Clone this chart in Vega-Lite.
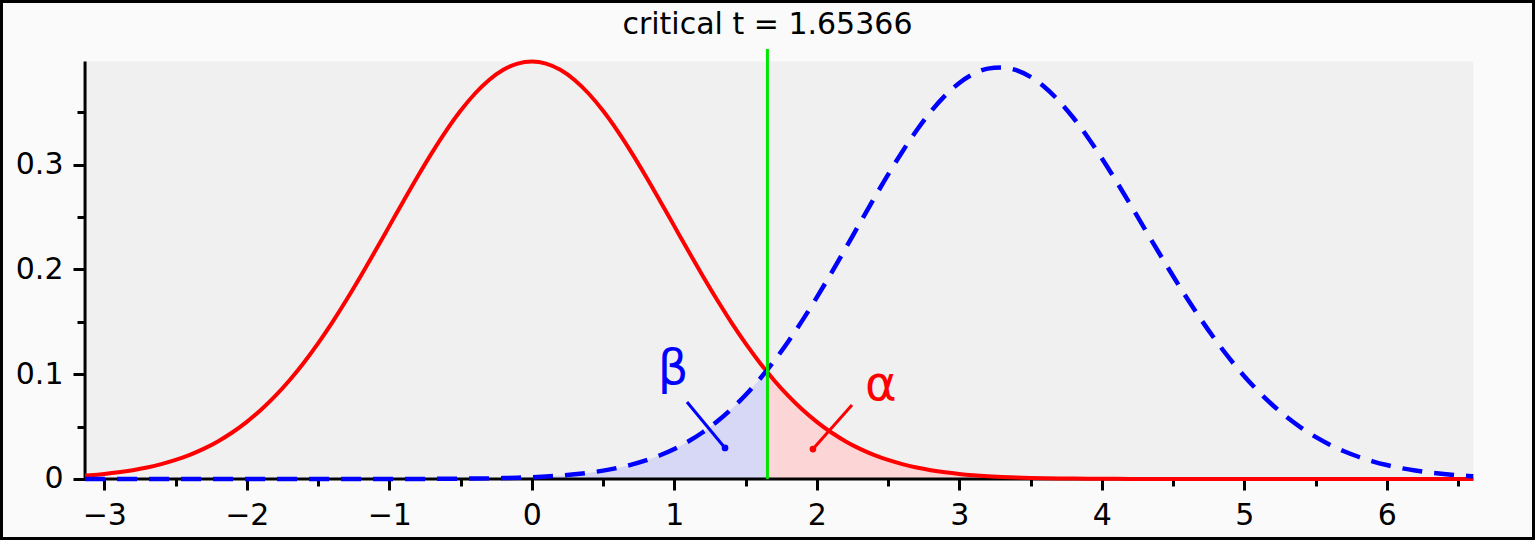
{
  "$schema": "https://vega.github.io/schema/vega-lite/v6.json",
  "width": 1535,
  "height": 540,
  "autosize": "none",
  "padding": 0,
  "background": "#fafafa",
  "config": {
    "view": {"stroke": "#000000", "strokeWidth": 6, "fill": "#fafafa"},
    "font": "DejaVu Sans",
    "axis": {
      "title": null, "grid": false, "domain": false,
      "tickWidth": 3, "tickColor": "#000000",
      "labelFont": "DejaVu Sans", "labelFontSize": 30, "labelColor": "#000000",
      "labelPadding": 10, "labelFlush": false, "labelOverlap": false, "labelBound": false
    }
  },
  "datasets": {
    "curves": [
      {"x": -3.135, "red": 0.00324, "blue": 0},
      {"x": -3.1, "red": 0.0036, "blue": 0},
      {"x": -3.0, "red": 0.00482, "blue": 0},
      {"x": -2.9, "red": 0.0064, "blue": 0},
      {"x": -2.8, "red": 0.00842, "blue": 0},
      {"x": -2.7, "red": 0.01098, "blue": 0},
      {"x": -2.6, "red": 0.01419, "blue": 0},
      {"x": -2.5, "red": 0.01817, "blue": 0},
      {"x": -2.4, "red": 0.02306, "blue": 0},
      {"x": -2.3, "red": 0.02899, "blue": 0},
      {"x": -2.2, "red": 0.03612, "blue": 0},
      {"x": -2.1, "red": 0.04459, "blue": 0},
      {"x": -2.0, "red": 0.05453, "blue": 0},
      {"x": -1.9, "red": 0.06607, "blue": 0},
      {"x": -1.8, "red": 0.07929, "blue": 0},
      {"x": -1.7, "red": 0.09426, "blue": 0},
      {"x": -1.6, "red": 0.11099, "blue": 0},
      {"x": -1.5, "red": 0.12944, "blue": 0},
      {"x": -1.4, "red": 0.1495, "blue": 0},
      {"x": -1.3, "red": 0.171, "blue": 0},
      {"x": -1.2, "red": 0.19369, "blue": 0},
      {"x": -1.1, "red": 0.21724, "blue": 0.00002},
      {"x": -1.0, "red": 0.24128, "blue": 0.00004},
      {"x": -0.9, "red": 0.26534, "blue": 0.00006},
      {"x": -0.8, "red": 0.28892, "blue": 0.00009},
      {"x": -0.7, "red": 0.31148, "blue": 0.00013},
      {"x": -0.6, "red": 0.33247, "blue": 0.0002},
      {"x": -0.5, "red": 0.35134, "blue": 0.00029},
      {"x": -0.4, "red": 0.36759, "blue": 0.00042},
      {"x": -0.3, "red": 0.38075, "blue": 0.00061},
      {"x": -0.2, "red": 0.39044, "blue": 0.00087},
      {"x": -0.1, "red": 0.39637, "blue": 0.00123},
      {"x": 0.0, "red": 0.39837, "blue": 0.00172},
      {"x": 0.1, "red": 0.39637, "blue": 0.00239},
      {"x": 0.2, "red": 0.39044, "blue": 0.00327},
      {"x": 0.3, "red": 0.38075, "blue": 0.00445},
      {"x": 0.4, "red": 0.36759, "blue": 0.00598},
      {"x": 0.5, "red": 0.35134, "blue": 0.00797},
      {"x": 0.6, "red": 0.33247, "blue": 0.0105},
      {"x": 0.7, "red": 0.31148, "blue": 0.01371},
      {"x": 0.8, "red": 0.28892, "blue": 0.01771},
      {"x": 0.9, "red": 0.26534, "blue": 0.02266},
      {"x": 1.0, "red": 0.24128, "blue": 0.02869},
      {"x": 1.1, "red": 0.21724, "blue": 0.03596},
      {"x": 1.2, "red": 0.19369, "blue": 0.04461},
      {"x": 1.3, "red": 0.171, "blue": 0.05478},
      {"x": 1.4, "red": 0.1495, "blue": 0.0666},
      {"x": 1.5, "red": 0.12944, "blue": 0.08013},
      {"x": 1.6, "red": 0.11099, "blue": 0.09543},
      {"x": 1.65366, "red": 0.1018, "blue": 0.10437},
      {"x": 1.7, "red": 0.09426, "blue": 0.1125},
      {"x": 1.8, "red": 0.07929, "blue": 0.13127},
      {"x": 1.9, "red": 0.06607, "blue": 0.15161},
      {"x": 2.0, "red": 0.05453, "blue": 0.17332},
      {"x": 2.1, "red": 0.04459, "blue": 0.19612},
      {"x": 2.2, "red": 0.03612, "blue": 0.21968},
      {"x": 2.3, "red": 0.02899, "blue": 0.24356},
      {"x": 2.4, "red": 0.02306, "blue": 0.26731},
      {"x": 2.5, "red": 0.01817, "blue": 0.29042},
      {"x": 2.6, "red": 0.01419, "blue": 0.31234},
      {"x": 2.7, "red": 0.01098, "blue": 0.33255},
      {"x": 2.8, "red": 0.00842, "blue": 0.35052},
      {"x": 2.9, "red": 0.0064, "blue": 0.36578},
      {"x": 3.0, "red": 0.00482, "blue": 0.37791},
      {"x": 3.1, "red": 0.0036, "blue": 0.38658},
      {"x": 3.2, "red": 0.00267, "blue": 0.39156},
      {"x": 3.3, "red": 0.00196, "blue": 0.39273},
      {"x": 3.4, "red": 0.00142, "blue": 0.39008},
      {"x": 3.5, "red": 0.00103, "blue": 0.38369},
      {"x": 3.6, "red": 0.00074, "blue": 0.37379},
      {"x": 3.7, "red": 0.00052, "blue": 0.36066},
      {"x": 3.8, "red": 0.00037, "blue": 0.3447},
      {"x": 3.9, "red": 0.00025, "blue": 0.32636},
      {"x": 4.0, "red": 0.00018, "blue": 0.30612},
      {"x": 4.1, "red": 0.00012, "blue": 0.28447},
      {"x": 4.2, "red": 0.00008, "blue": 0.26194},
      {"x": 4.3, "red": 0.00005, "blue": 0.239},
      {"x": 4.4, "red": 0.00003, "blue": 0.21611},
      {"x": 4.5, "red": 0.00002, "blue": 0.19366},
      {"x": 4.6, "red": 0.00001, "blue": 0.17202},
      {"x": 4.7, "red": 0, "blue": 0.15145},
      {"x": 4.8, "red": 0, "blue": 0.13218},
      {"x": 4.9, "red": 0, "blue": 0.11437},
      {"x": 5.0, "red": 0, "blue": 0.09811},
      {"x": 5.1, "red": 0, "blue": 0.08345},
      {"x": 5.2, "red": 0, "blue": 0.07038},
      {"x": 5.3, "red": 0, "blue": 0.05886},
      {"x": 5.4, "red": 0, "blue": 0.04881},
      {"x": 5.5, "red": 0, "blue": 0.04014},
      {"x": 5.6, "red": 0, "blue": 0.03273},
      {"x": 5.7, "red": 0, "blue": 0.02647},
      {"x": 5.8, "red": 0, "blue": 0.02123},
      {"x": 5.9, "red": 0, "blue": 0.01688},
      {"x": 6.0, "red": 0, "blue": 0.01331},
      {"x": 6.1, "red": 0, "blue": 0.01041},
      {"x": 6.2, "red": 0, "blue": 0.00807},
      {"x": 6.3, "red": 0, "blue": 0.0062},
      {"x": 6.4, "red": 0, "blue": 0.00473},
      {"x": 6.5, "red": 0, "blue": 0.00357},
      {"x": 6.6, "red": 0, "blue": 0.00268},
      {"x": 6.607, "red": 0, "blue": 0.00262}
    ],
    "critical": [{"t": 1.65366, "label": "critical t = 1.65366"}],
    "greek": [
      {"s": "β", "x": 0.991, "y": 0.0906},
      {"s": "α", "x": 2.45, "y": 0.0754}
    ],
    "pointers": [
      {"s": "β", "x": 1.089, "y": 0.0735},
      {"s": "β", "x": 1.356, "y": 0.0296},
      {"s": "α", "x": 2.247, "y": 0.0706},
      {"s": "α", "x": 1.973, "y": 0.0286}
    ],
    "dots": [
      {"s": "β", "x": 1.356, "y": 0.0296},
      {"s": "α", "x": 1.973, "y": 0.0286}
    ]
  },
  "layer": [
    {
      "data": {"values": [{"x0": -3.135, "x1": 6.607, "y0": 0, "y1": 0.3984}]},
      "mark": {"type": "rect", "fill": "#f0f0f0"},
      "encoding": {
        "x": {
          "field": "x0", "type": "quantitative",
          "scale": {"domain": [-3.7319, 7.04], "nice": false, "zero": false},
          "axis": {
            "orient": "bottom", "offset": -61, "domain": false, "grid": false, "title": null,
            "values": [-3, -2.5, -2, -1.5, -1, -0.5, 0, 0.5, 1, 1.5, 2, 2.5, 3, 3.5, 4, 4.5, 5, 5.5, 6, 6.5],
            "labelExpr": "datum.value % 1 == 0 ? format(datum.value, 'd') : ''",
            "tickSize": {"condition": {"test": "datum.value % 1 == 0", "value": 11}, "value": 7},
            "tickWidth": 3, "tickColor": "#000000",
            "labelFont": "DejaVu Sans", "labelFontSize": 30, "labelColor": "#000000",
            "labelPadding": 10
          }
        },
        "x2": {"field": "x1"},
        "y": {
          "field": "y0", "type": "quantitative",
          "scale": {"domain": [-0.05821, 0.45706], "nice": false, "zero": false},
          "axis": {
            "orient": "left", "offset": -85, "domain": false, "grid": false, "title": null,
            "values": [0, 0.05, 0.1, 0.15, 0.2, 0.25, 0.3, 0.35],
            "labelExpr": "round(datum.value * 20) % 2 == 0 ? (datum.value == 0 ? '0' : format(datum.value, '.1f')) : ''",
            "tickSize": {"condition": {"test": "round(datum.value * 20) % 2 == 0", "value": 12}, "value": 8},
            "tickWidth": 3, "tickColor": "#000000",
            "labelFont": "DejaVu Sans", "labelFontSize": 30, "labelColor": "#000000",
            "labelPadding": 10
          }
        },
        "y2": {"field": "y1"}
      }
    },
    {
      "data": {"name": "curves"},
      "transform": [{"filter": "datum.x <= 1.65366"}],
      "mark": {"type": "area", "color": "#d6d8f6", "interpolate": "monotone"},
      "encoding": {
        "x": {"field": "x", "type": "quantitative"},
        "y": {"field": "blue", "type": "quantitative"},
        "y2": {"datum": 0}
      }
    },
    {
      "data": {"name": "curves"},
      "transform": [{"filter": "datum.x >= 1.65366"}],
      "mark": {"type": "area", "color": "#fcd6d6", "interpolate": "monotone"},
      "encoding": {
        "x": {"field": "x", "type": "quantitative"},
        "y": {"field": "red", "type": "quantitative"},
        "y2": {"datum": 0}
      }
    },
    {
      "data": {"values": [{"x0": -3.135, "x1": 6.607, "y0": 0}]},
      "mark": {"type": "rule", "color": "#000000", "strokeWidth": 3},
      "encoding": {
        "x": {"field": "x0", "type": "quantitative"},
        "x2": {"field": "x1"},
        "y": {"field": "y0", "type": "quantitative"}
      }
    },
    {
      "data": {"values": [{"x0": -3.135, "y0": 0, "y1": 0.3984}]},
      "mark": {"type": "rule", "color": "#000000", "strokeWidth": 3},
      "encoding": {
        "x": {"field": "x0", "type": "quantitative"},
        "y": {"field": "y0", "type": "quantitative"},
        "y2": {"field": "y1"}
      }
    },
    {
      "data": {"name": "curves"},
      "mark": {"type": "line", "color": "#ff0000", "strokeWidth": 4, "interpolate": "monotone"},
      "encoding": {
        "x": {"field": "x", "type": "quantitative"},
        "y": {"field": "red", "type": "quantitative"}
      }
    },
    {
      "data": {"name": "curves"},
      "mark": {"type": "line", "color": "#0000ff", "strokeWidth": 4.5, "strokeDash": [20, 12], "interpolate": "monotone"},
      "encoding": {
        "x": {"field": "x", "type": "quantitative"},
        "y": {"field": "blue", "type": "quantitative"}
      }
    },
    {
      "data": {"name": "critical"},
      "mark": {"type": "rule", "color": "#00e600", "strokeWidth": 3},
      "encoding": {
        "x": {"field": "t", "type": "quantitative"},
        "y": {"datum": 0, "type": "quantitative"},
        "y2": {"datum": 0.4103}
      }
    },
    {
      "data": {"name": "critical"},
      "mark": {"type": "text", "font": "DejaVu Sans", "fontSize": 30, "color": "#000000", "align": "center", "baseline": "alphabetic"},
      "encoding": {
        "x": {"field": "t", "type": "quantitative"},
        "y": {"datum": 0.4246, "type": "quantitative"},
        "text": {"field": "label"}
      }
    },
    {
      "data": {"name": "pointers"},
      "mark": {"type": "line", "strokeWidth": 3},
      "encoding": {
        "x": {"field": "x", "type": "quantitative"},
        "y": {"field": "y", "type": "quantitative"},
        "color": {"field": "s", "type": "nominal", "scale": {"domain": ["α", "β"], "range": ["#ff0000", "#0000ff"]}, "legend": null}
      }
    },
    {
      "data": {"name": "dots"},
      "mark": {"type": "point", "filled": true, "size": 45, "opacity": 1},
      "encoding": {
        "x": {"field": "x", "type": "quantitative"},
        "y": {"field": "y", "type": "quantitative"},
        "color": {"field": "s", "type": "nominal", "scale": {"domain": ["α", "β"], "range": ["#ff0000", "#0000ff"]}, "legend": null}
      }
    },
    {
      "data": {"name": "greek"},
      "mark": {"type": "text", "font": "DejaVu Sans", "fontSize": 48, "align": "center", "baseline": "alphabetic"},
      "encoding": {
        "x": {"field": "x", "type": "quantitative"},
        "y": {"field": "y", "type": "quantitative"},
        "text": {"field": "s"},
        "color": {"field": "s", "type": "nominal", "scale": {"domain": ["α", "β"], "range": ["#ff0000", "#0000ff"]}, "legend": null}
      }
    }
  ]
}
